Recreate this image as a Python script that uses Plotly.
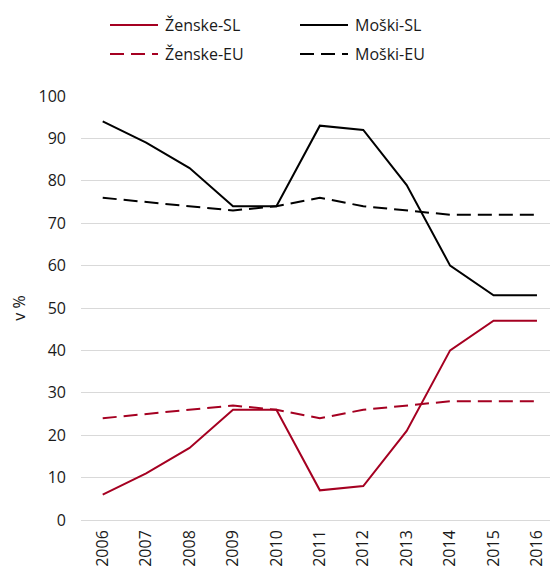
import plotly.graph_objects as go

years = ["2006", "2007", "2008", "2009", "2010", "2011", "2012", "2013", "2014", "2015", "2016"]
zenske_sl = [6, 11, 17, 26, 26, 7, 8, 21, 40, 47, 47]
moski_sl = [94, 89, 83, 74, 74, 93, 92, 79, 60, 53, 53]
zenske_eu = [24, 25, 26, 27, 26, 24, 26, 27, 28, 28, 28]
moski_eu = [76, 75, 74, 73, 74, 76, 74, 73, 72, 72, 72]

RED = "#A50021"
BLACK = "#000000"
TEXT = "#1a1a1a"
FONT = "Open Sans"
DASH = "14px,7px"

W, H = 550, 570
ML, MR, MT, MB = 81, 0, 96, 50
PW, PH = W - ML - MR, H - MT - MB

series = [
    ("Ženske-SL", zenske_sl, RED, "solid"),
    ("Moški-SL", moski_sl, BLACK, "solid"),
    ("Ženske-EU", zenske_eu, RED, DASH),
    ("Moški-EU", moski_eu, BLACK, DASH),
]

fig = go.Figure()
for name, vals, color, dash in series:
    fig.add_trace(go.Scatter(x=years, y=vals, name=name, mode="lines",
                             line=dict(color=color, width=2, dash=dash),
                             showlegend=False))


def px_x(px):
    return (px - ML) / PW


def px_y(py):
    return (H - MB - py) / PH


# two-column legend above the plot
legend_pos = [(110, 25), (300, 25), (110, 54), (300, 54)]
for (name, _, color, dash), (lx, ly) in zip(series, legend_pos):
    fig.add_shape(type="line", xref="paper", yref="paper",
                  x0=px_x(lx), x1=px_x(lx + 48), y0=px_y(ly), y1=px_y(ly),
                  line=dict(color=color, width=2, dash=dash))
    fig.add_annotation(xref="paper", yref="paper", x=px_x(lx + 53), y=px_y(ly),
                       xanchor="left", yanchor="middle", showarrow=False,
                       text=name, font=dict(family=FONT, size=16, color=TEXT))

fig.update_layout(
    width=W, height=H,
    margin=dict(l=ML, r=MR, t=MT, b=MB),
    paper_bgcolor="white", plot_bgcolor="white",
    font=dict(family=FONT, size=16, color=TEXT),
    showlegend=False,
    xaxis=dict(type="category", tickangle=-90, showgrid=False, showline=False,
               zeroline=False, ticks="", tickfont=dict(size=16), automargin=False,
               range=[-0.5, 10.3], ticklabelstandoff=6),
    yaxis=dict(range=[0, 100], dtick=10, showgrid=True, gridcolor="#d9d9d9",
               gridwidth=1, zeroline=True, zerolinecolor="#d9d9d9", zerolinewidth=1,
               showline=False, ticks="", tickfont=dict(size=16), automargin=False,
               ticklabelstandoff=14,
               title=dict(text="v %", font=dict(size=16), standoff=8)),
)

fig.write_html("out.html")
